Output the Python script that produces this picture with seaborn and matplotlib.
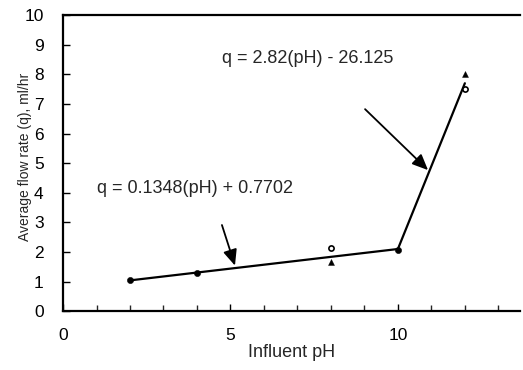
import matplotlib
matplotlib.use("Agg")
import matplotlib.pyplot as plt
import seaborn as sns
import pandas as pd
from matplotlib.ticker import MultipleLocator

# data
dot_ph = [2, 4, 10]
dot_q = [1.05, 1.3, 2.05]
circle_ph = [8, 12]
circle_q = [2.15, 7.5]
tri_ph = [8, 12]
tri_q = [1.65, 8.0]
fit_ph = [2, 10, 12]
fit_q = [1.04, 2.1, 7.7]

sns.set_theme(style="ticks")
plt.rcParams['font.family'] = ['Liberation Sans', 'DejaVu Sans']

fig = plt.figure(figsize=(5.23, 3.70), dpi=100)
ax = fig.add_axes([0.1205, 0.159, 0.874, 0.8])

fit = pd.DataFrame({"ph": fit_ph, "q": fit_q})
sns.lineplot(data=fit, x="ph", y="q", ax=ax, color="black", lw=1.6, sort=False)
sns.scatterplot(x=dot_ph, y=dot_q, ax=ax, color="black", s=20, marker="o", edgecolor="black", zorder=3)
sns.scatterplot(x=circle_ph, y=circle_q, ax=ax, facecolor="white", edgecolor="black", s=14, marker="o", linewidth=1.2, zorder=3)
sns.scatterplot(x=tri_ph, y=tri_q, ax=ax, color="black", s=18, marker="^", edgecolor="black", zorder=3)

ax.set_xlim(0, 13.65)
ax.set_ylim(0, 10)
ax.xaxis.set_major_locator(MultipleLocator(5))
ax.xaxis.set_minor_locator(MultipleLocator(1))
ax.yaxis.set_major_locator(MultipleLocator(1))
ax.tick_params(axis="both", direction="in", colors="black", labelsize=12.5, length=5, width=1)
ax.tick_params(axis="x", which="minor", direction="in", length=4, width=1)
ax.tick_params(axis="x", pad=12)
ax.tick_params(axis="y", pad=14)
for s in ["left", "bottom", "top"]:
    ax.spines[s].set_linewidth(1.6)
    ax.spines[s].set_color("black")
ax.spines["right"].set_visible(False)

ax.set_xlabel("Influent pH", fontsize=13, labelpad=1)
ax.set_ylabel("Average flow rate (q), ml/hr", fontsize=10)
ax.yaxis.set_label_coords(-0.068, 0.52)

ax.text(7.3, 8.55, "q = 2.82(pH) - 26.125", ha="center", va="center", fontsize=13)
ax.text(3.94, 4.16, "q = 0.1348(pH) + 0.7702", ha="center", va="center", fontsize=13)
ax.annotate("", xy=(10.96, 4.70), xytext=(8.96, 6.89),
            arrowprops=dict(arrowstyle="-|>,head_length=0.8,head_width=0.35", color="black", lw=1.3))
ax.annotate("", xy=(5.16, 1.45), xytext=(4.72, 3.0),
            arrowprops=dict(arrowstyle="-|>,head_length=0.8,head_width=0.35", color="black", lw=1.3))

fig.savefig("out.png", dpi=100)
